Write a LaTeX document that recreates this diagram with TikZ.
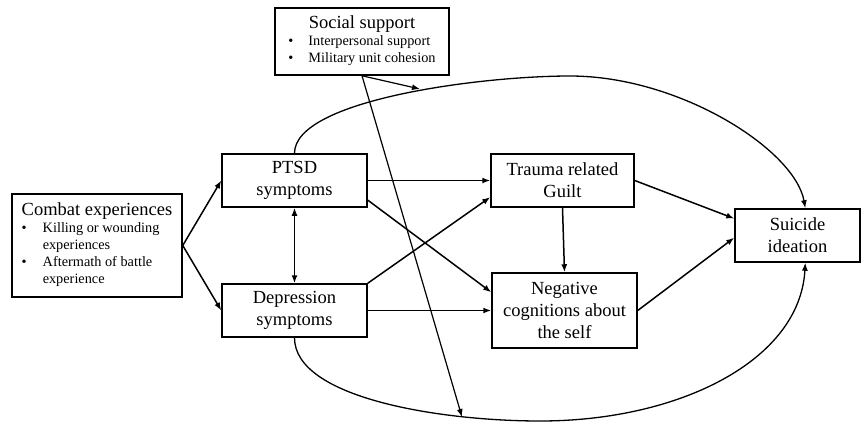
\documentclass[tikz,border=0pt]{standalone}
\usepackage{fontspec}
\setmainfont{Liberation Serif}
\usetikzlibrary{arrows.meta}

\begin{document}
\begin{tikzpicture}[x=1pt, y=-1pt, >={Latex[length=8pt,width=6pt]}, line width=1.5pt, font=\fontsize{18.5}{22}\selectfont]
\tikzset{
	ssbox/.style={draw, align=center, inner sep=2pt, minimum width=145pt, minimum height=53pt},
	sslist/.style={draw, inner sep=3pt},
	sscurve/.style={->, line width=1.3pt},
	ssthin/.style={->, line width=1.2pt}
}
\useasboundingbox (0,0) rectangle (863,423);

\node[sslist, minimum width=170pt, minimum height=103pt] (combat) at (97,245.5)
{\fontsize{14.3}{17}\selectfont
\begin{tabular}{@{}l@{\hspace{16pt}}l@{}}
\multicolumn{2}{@{}c@{}}{\fontsize{18.5}{22}\selectfont Combat experiences}\\
\textbullet & Killing or wounding\\
 & experiences\\
\textbullet & Aftermath of battle\\
 & experience
\end{tabular}};

\node[sslist, minimum width=174pt, minimum height=67pt] (social) at (362,41.5)
{\fontsize{14.3}{17}\selectfont
\begin{tabular}{@{}l@{\hspace{15pt}}l@{}}
\multicolumn{2}{@{}c@{}}{\fontsize{18.5}{22}\selectfont Social support}\\
\textbullet & Interpersonal support\\
\textbullet & Military unit cohesion
\end{tabular}};

\node[ssbox] (ptsd) at (294.5,180.5) {PTSD\\symptoms};
\node[ssbox] (depr) at (294.5,310.5) {Depression\\symptoms};
\node[ssbox, minimum width=143pt] (guilt) at (562.5,180.5) {Trauma related\\Guilt};
\node[ssbox, minimum height=75pt] (negcog) at (564.5,310.5) {Negative\\cognitions about\\the self};
\node[ssbox, minimum width=125pt] (suicide) at (797.5,235.5) {Suicide\\ideation};

\coordinate (socialtop) at (420,89);
\coordinate (socialbot) at (462,417);

\draw[->] (combat.east) -- (ptsd.west);
\draw[->] (combat.east) -- (depr.west);
\draw[<->] (ptsd.south) -- (depr.north);
\draw[->] (ptsd.east) -- (guilt.west);
\draw[->] (ptsd.-15) -- (negcog.166);
\draw[->] (depr.north east) -- (guilt.193);
\draw[->] (depr.east) -- (negcog.west);
\draw[->] (guilt.south) -- (negcog.north);
\draw[->] (guilt.east) -- (suicide.165);
\draw[->] (negcog.east) -- (suicide.182);

\draw[sscurve] (ptsd.north) .. controls (294.5,100) and (480,76) .. (570,76) .. controls (680,76) and (795,150) .. (suicide.74);
\draw[sscurve] (depr.south) .. controls (294.5,398) and (440,421) .. (540,421) .. controls (680,421) and (800,360) .. (suicide.-74);

\draw[ssthin] (social.south) -- (socialtop);
\draw[ssthin] (social.south) -- (socialbot);

\end{tikzpicture}
\end{document}
